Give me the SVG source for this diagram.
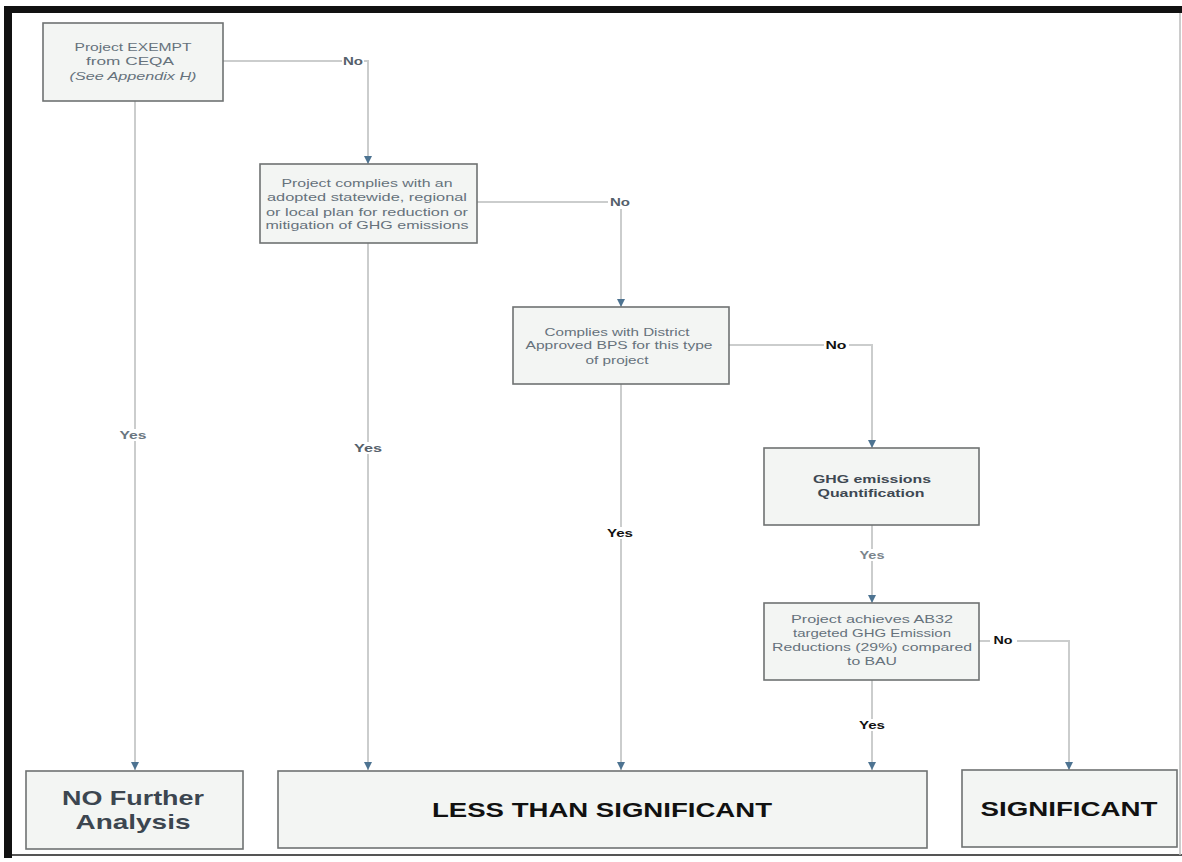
<svg xmlns="http://www.w3.org/2000/svg" width="1182" height="862" viewBox="0 0 1182 862">
<style>
.box{fill:#f3f5f3;stroke:#6f7272;stroke-width:1.6}
.t{font-family:"Liberation Sans",Arial,sans-serif;font-size:11px;fill:#66727c;text-anchor:middle}
.tb{font-family:"Liberation Sans",Arial,sans-serif;font-size:11px;font-weight:bold;fill:#3e4852;text-anchor:middle}
.big{font-family:"Liberation Sans",Arial,sans-serif;font-size:21px;font-weight:bold;text-anchor:middle}
.lbl{font-family:"Liberation Sans",Arial,sans-serif;font-size:10px;font-weight:bold;text-anchor:middle}
.conn{fill:none;stroke:#cbcdcd;stroke-width:2}
.lbg{fill:#ffffff}
</style>
<defs>
<marker id="ah" viewBox="0 0 10 10" refX="10" refY="5" markerWidth="4" markerHeight="4" orient="auto" markerUnits="strokeWidth">
<path d="M0,0 L10,5 L0,10 z" fill="#4d7391"/>
</marker>
</defs>
<rect x="0" y="0" width="1182" height="862" fill="#ffffff"/>
<g id="frame">
<rect x="4" y="6" width="1178" height="7" fill="#111111"/>
<rect x="4" y="6" width="8" height="852" fill="#111111"/>
<line x1="12" y1="855" x2="1182" y2="855" stroke="#555555" stroke-width="2"/>
<line x1="1180" y1="13" x2="1180" y2="855" stroke="#bbbbbb" stroke-width="1.5"/>
</g>
<g id="connectors">
<path class="conn" d="M135,101 V770" marker-end="url(#ah)"/>
<path class="conn" d="M223,61 H368 V164" marker-end="url(#ah)"/>
<path class="conn" d="M368,243 V770" marker-end="url(#ah)"/>
<path class="conn" d="M477,202 H621 V307" marker-end="url(#ah)"/>
<path class="conn" d="M621,384 V770" marker-end="url(#ah)"/>
<path class="conn" d="M729,345 H872 V448" marker-end="url(#ah)"/>
<path class="conn" d="M872,525 V603" marker-end="url(#ah)"/>
<path class="conn" d="M872,680 V770" marker-end="url(#ah)"/>
<path class="conn" d="M979,641 H1069 V770" marker-end="url(#ah)"/>
<rect class="lbg" x="342" y="55" width="22" height="12"/>
<text class="lbl" x="353" y="65" fill="#55606a" textLength="20" lengthAdjust="spacingAndGlyphs">No</text>
<rect class="lbg" x="608" y="196" width="26" height="13"/>
<text class="lbl" x="620" y="206" fill="#55606a" textLength="20" lengthAdjust="spacingAndGlyphs">No</text>
<rect class="lbg" x="824" y="339" width="25" height="12"/>
<text class="lbl" x="836" y="349" fill="#111111" textLength="21" lengthAdjust="spacingAndGlyphs">No</text>
<rect class="lbg" x="990" y="634" width="27" height="13"/>
<text class="lbl" x="1003" y="644" fill="#111111" textLength="19" lengthAdjust="spacingAndGlyphs">No</text>
<rect class="lbg" x="119" y="429" width="30" height="12"/>
<text class="lbl" x="133" y="439" fill="#6a7680" textLength="27" lengthAdjust="spacingAndGlyphs">Yes</text>
<rect class="lbg" x="353" y="442" width="30" height="12"/>
<text class="lbl" x="368" y="452" fill="#55606a" textLength="28" lengthAdjust="spacingAndGlyphs">Yes</text>
<rect class="lbg" x="606" y="527" width="30" height="12"/>
<text class="lbl" x="620" y="537" fill="#111111" textLength="26" lengthAdjust="spacingAndGlyphs">Yes</text>
<rect class="lbg" x="858" y="549" width="30" height="12"/>
<text class="lbl" x="872" y="559" fill="#7a848c" textLength="25" lengthAdjust="spacingAndGlyphs">Yes</text>
<rect class="lbg" x="858" y="719" width="30" height="12"/>
<text class="lbl" x="872" y="729" fill="#111111" textLength="26" lengthAdjust="spacingAndGlyphs">Yes</text>
</g>
<g id="exempt">
<rect class="box" x="43" y="23" width="180" height="78"/>
<text class="t" x="133" y="51" textLength="117" lengthAdjust="spacingAndGlyphs">Project EXEMPT</text>
<text class="t" x="130" y="65" textLength="88" lengthAdjust="spacingAndGlyphs">from CEQA</text>
<text class="t" x="133" y="80" font-style="italic" textLength="127" lengthAdjust="spacingAndGlyphs">(See Appendix H)</text>
</g>
<g id="plan">
<rect class="box" x="260" y="164" width="217" height="79"/>
<text class="t" x="367" y="187" textLength="171" lengthAdjust="spacingAndGlyphs">Project complies with an</text>
<text class="t" x="367" y="201" textLength="200" lengthAdjust="spacingAndGlyphs">adopted statewide, regional</text>
<text class="t" x="367" y="216" textLength="202" lengthAdjust="spacingAndGlyphs">or local plan for reduction or</text>
<text class="t" x="367" y="229" textLength="203" lengthAdjust="spacingAndGlyphs">mitigation of GHG emissions</text>
</g>
<g id="bps">
<rect class="box" x="513" y="307" width="216" height="77"/>
<text class="t" x="617" y="336" textLength="145" lengthAdjust="spacingAndGlyphs">Complies with District</text>
<text class="t" x="619" y="349" textLength="187" lengthAdjust="spacingAndGlyphs">Approved BPS for this type</text>
<text class="t" x="617" y="364" textLength="63" lengthAdjust="spacingAndGlyphs">of project</text>
</g>
<g id="quant">
<rect class="box" x="764" y="448" width="215" height="77"/>
<text class="tb" x="872" y="483" textLength="118" lengthAdjust="spacingAndGlyphs">GHG emissions</text>
<text class="tb" x="871" y="497" textLength="107" lengthAdjust="spacingAndGlyphs">Quantification</text>
</g>
<g id="ab32">
<rect class="box" x="764" y="603" width="215" height="77"/>
<text class="t" x="872" y="623" textLength="162" lengthAdjust="spacingAndGlyphs">Project achieves AB32</text>
<text class="t" x="872" y="637" textLength="158" lengthAdjust="spacingAndGlyphs">targeted GHG Emission</text>
<text class="t" x="872" y="651" textLength="200" lengthAdjust="spacingAndGlyphs">Reductions (29%) compared</text>
<text class="t" x="872" y="665" textLength="50" lengthAdjust="spacingAndGlyphs">to BAU</text>
</g>
<g id="nofurther">
<rect class="box" x="26" y="771" width="217" height="78"/>
<text class="big" x="133" y="805" fill="#3c4650" textLength="142" lengthAdjust="spacingAndGlyphs">NO Further</text>
<text class="big" x="133" y="829" fill="#3c4650" textLength="115" lengthAdjust="spacingAndGlyphs">Analysis</text>
</g>
<g id="less">
<rect class="box" x="278" y="771" width="649" height="77"/>
<text class="big" x="602" y="817" fill="#111111" textLength="340" lengthAdjust="spacingAndGlyphs">LESS THAN SIGNIFICANT</text>
</g>
<g id="significant">
<rect class="box" x="962" y="770" width="215" height="77"/>
<text class="big" x="1069" y="816" fill="#111111" textLength="177" lengthAdjust="spacingAndGlyphs">SIGNIFICANT</text>
</g>
</svg>
